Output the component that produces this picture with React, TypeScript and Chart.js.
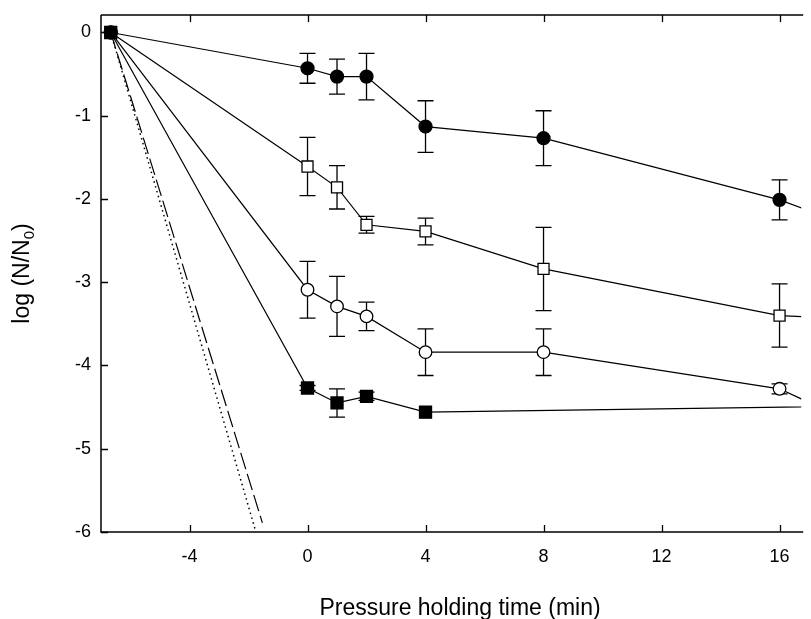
import React, { useEffect, useRef } from "react";
import { Chart, registerables } from "chart.js";

Chart.register(...registerables);

// ---- data ----
const startTime = -6.67;
const startValue = 0;

const holdTimes = [0, 1, 2, 4, 8, 16, 20];

const filledCircleY = [-0.43, -0.53, -0.53, -1.13, -1.27, -2.01, -2.53];
const filledCircleErr = [0.18, 0.21, 0.28, 0.31, 0.33, 0.24, 0];

const openSquareY = [-1.61, -1.86, -2.31, -2.39, -2.84, -3.4, -3.47];
const openSquareErr = [0.35, 0.26, 0.1, 0.16, 0.5, 0.38, 0];

const openCircleY = [-3.09, -3.29, -3.41, -3.84, -3.84, -4.28, -4.94];
const openCircleErr = [0.34, 0.36, 0.17, 0.28, 0.28, 0.06, 0];

const filledSquareTimes = [0, 1, 2, 4, 20];
const filledSquareY = [-4.27, -4.45, -4.37, -4.56, -4.48];
const filledSquareErr = [0.03, 0.17, 0.05, 0, 0];

const dashedX = [-6.67, -1.53];
const dashedY = [0, -5.89];
const dottedX = [-6.67, -1.75];
const dottedY = [0, -6];

const xTicks = [-4, 0, 4, 8, 12, 16];
const yTicks = [0, -1, -2, -3, -4, -5, -6];

const xTitle = "Pressure holding time (min)";
const yTitleMain = "log (N/N";
const yTitleSub = "0";
const yTitleEnd = ")";

const FONT = '"Liberation Sans", Arial, Helvetica, sans-serif';

function series(xs: number[], ys: number[]) {
  return [{ x: startTime, y: startValue }].concat(xs.map((x, i) => ({ x, y: ys[i] })));
}
function errs(e: number[]) {
  return [0].concat(e);
}
function line(xs: number[], ys: number[]) {
  return xs.map((x, i) => ({ x, y: ys[i] }));
}

const framePlugin = {
  id: "frameAndErrors",
  beforeDatasetsDraw(chart: any) {
    const { ctx, chartArea: a, scales } = chart;
    const xs = scales.x;
    const ys = scales.y;
    ctx.save();
    ctx.strokeStyle = "#000";
    // frame
    ctx.lineWidth = 1.5;
    ctx.beginPath();
    ctx.moveTo(a.left, a.top);
    ctx.lineTo(a.right + 2, a.top);
    ctx.moveTo(a.left, a.top);
    ctx.lineTo(a.left, a.bottom);
    ctx.lineTo(a.right + 2, a.bottom);
    ctx.stroke();
    // inward ticks
    ctx.lineWidth = 1.3;
    ctx.beginPath();
    xTicks.forEach((v) => {
      const px = Math.round(xs.getPixelForValue(v)) + 0.5;
      ctx.moveTo(px, a.bottom);
      ctx.lineTo(px, a.bottom - 7);
      ctx.moveTo(px, a.top);
      ctx.lineTo(px, a.top + 7);
    });
    yTicks.forEach((v) => {
      const py = Math.round(ys.getPixelForValue(v)) + 0.5;
      ctx.moveTo(a.left, py);
      ctx.lineTo(a.left + 7, py);
    });
    ctx.stroke();
    // error bars
    ctx.beginPath();
    ctx.rect(a.left, a.top, a.right - a.left, a.bottom - a.top);
    ctx.clip();
    ctx.lineWidth = 1.3;
    chart.data.datasets.forEach((ds: any) => {
      const e = ds.errors;
      if (!e) return;
      ds.data.forEach((p: any, j: number) => {
        const err = e[j];
        if (!err) return;
        const px = xs.getPixelForValue(p.x);
        const y1 = ys.getPixelForValue(p.y + err);
        const y2 = ys.getPixelForValue(p.y - err);
        ctx.beginPath();
        ctx.moveTo(px, y1);
        ctx.lineTo(px, y2);
        ctx.moveTo(px - 8, y1);
        ctx.lineTo(px + 8, y1);
        ctx.moveTo(px - 8, y2);
        ctx.lineTo(px + 8, y2);
        ctx.stroke();
      });
    });
    ctx.restore();
  },
  afterDraw(chart: any) {
    const { ctx, chartArea: a } = chart;
    ctx.save();
    ctx.fillStyle = "#000";
    // x title
    ctx.font = `23px ${FONT}`;
    ctx.textAlign = "center";
    ctx.textBaseline = "alphabetic";
    ctx.fillText(xTitle, 460, 615);
    // y title with subscript
    ctx.translate(29, (a.top + a.bottom) / 2);
    ctx.rotate(-Math.PI / 2);
    ctx.textAlign = "left";
    const mainFont = `23px ${FONT}`;
    const subFont = `15px ${FONT}`;
    ctx.font = mainFont;
    const w1 = ctx.measureText(yTitleMain).width;
    const w3 = ctx.measureText(yTitleEnd).width;
    ctx.font = subFont;
    const w2 = ctx.measureText(yTitleSub).width;
    let x = -(w1 + w2 + w3) / 2;
    ctx.font = mainFont;
    ctx.fillText(yTitleMain, x, 0);
    x += w1;
    ctx.font = subFont;
    ctx.fillText(yTitleSub, x, 5);
    x += w2;
    ctx.font = mainFont;
    ctx.fillText(yTitleEnd, x, 0);
    ctx.restore();
  },
};

function zeroPadding(s: any) {
  s.paddingTop = 0;
  s.paddingBottom = 0;
  s.paddingLeft = 0;
  s.paddingRight = 0;
}

export default function App() {
  const ref = useRef<HTMLCanvasElement | null>(null);
  useEffect(() => {
    if (!ref.current) return;
    const common = {
      borderColor: "#000",
      borderWidth: 1.2,
      tension: 0,
      pointBorderColor: "#000",
      pointBorderWidth: 1.3,
    };
    const chart = new Chart(ref.current, {
      type: "line",
      data: {
        datasets: [
          {
            ...common,
            label: "filled circle",
            data: series(holdTimes, filledCircleY),
            errors: errs(filledCircleErr),
            pointStyle: "circle",
            pointRadius: 6.5,
            pointBackgroundColor: "#000",
          },
          {
            ...common,
            label: "open square",
            data: series(holdTimes, openSquareY),
            errors: errs(openSquareErr),
            pointStyle: "rect",
            pointRadius: 7.8,
            pointBackgroundColor: "#fff",
          },
          {
            ...common,
            label: "open circle",
            data: series(holdTimes, openCircleY),
            errors: errs(openCircleErr),
            pointStyle: "circle",
            pointRadius: 6.3,
            pointBackgroundColor: "#fff",
          },
          {
            ...common,
            label: "filled square",
            data: series(filledSquareTimes, filledSquareY),
            errors: errs(filledSquareErr),
            pointStyle: "rect",
            pointRadius: 8.5,
            pointBackgroundColor: "#000",
          },
          {
            label: "dashed",
            data: line(dashedX, dashedY),
            borderColor: "#000",
            borderWidth: 1.2,
            borderDash: [17, 5],
            pointRadius: 0,
          },
          {
            label: "dotted",
            data: line(dottedX, dottedY),
            borderColor: "#000",
            borderWidth: 1.5,
            borderDash: [1.5, 3.5],
            pointRadius: 0,
          },
        ] as any,
      },
      options: {
        animation: false,
        responsive: false,
        devicePixelRatio: 1,
        layout: { padding: { top: 15, left: 0, right: 0, bottom: 0 } },
        plugins: { legend: { display: false }, tooltip: { enabled: false } },
        scales: {
          x: {
            type: "linear",
            min: -7,
            max: 16.734,
            grid: { display: false, drawTicks: false },
            border: { display: false },
            ticks: {
              color: "#000",
              font: { family: FONT, size: 18 },
              padding: 14,
              maxRotation: 0,
            },
            afterBuildTicks: (s: any) => {
              s.ticks = xTicks.map((v) => ({ value: v }));
            },
            afterFit: (s: any) => {
              s.height = 87;
              zeroPadding(s);
            },
          },
          y: {
            type: "linear",
            min: -6,
            max: 0.21,
            grid: { display: false, drawTicks: false },
            border: { display: false },
            ticks: {
              color: "#000",
              font: { family: FONT, size: 18 },
              padding: 10,
            },
            afterBuildTicks: (s: any) => {
              s.ticks = yTicks.map((v) => ({ value: v }));
            },
            afterFit: (s: any) => {
              s.width = 101;
              zeroPadding(s);
            },
          },
        },
      } as any,
      plugins: [framePlugin],
    });
    return () => chart.destroy();
  }, []);
  return (
    <canvas
      ref={ref}
      width={811}
      height={619}
      style={{ position: "fixed", left: 0, top: 0, width: 811, height: 619, display: "block", background: "#fff" }}
    />
  );
}
